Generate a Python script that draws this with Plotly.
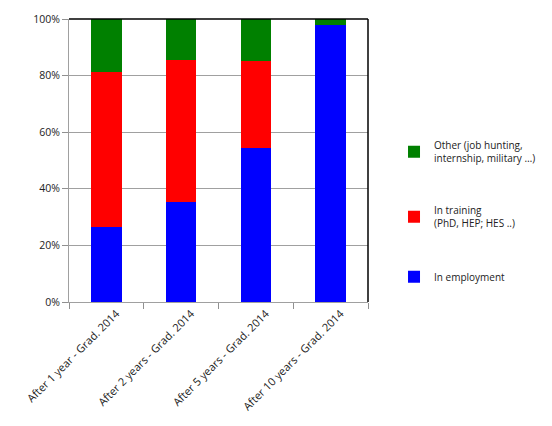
import plotly.graph_objects as go

categories = ["After 1 year - Grad. 2014", "After 2 years - Grad. 2014",
              "After 5 years - Grad. 2014", "After 10 years - Grad. 2014"]
employment = [26.5, 35.5, 54.5, 97.8]
training = [54.7, 50.0, 30.8, 0.0]
other = [18.8, 14.5, 14.7, 2.2]

series_names = ["In employment", "In training<br>(PhD, HEP; HES ..)",
                "Other (job hunting,<br>internship, military …)"]
series_colors = ["#0000FF", "#FF0000", "#008000"]
series_values = [employment, training, other]

fig = go.Figure()
for i, (name, vals, col) in enumerate(zip(series_names, series_values, series_colors)):
    fig.add_trace(go.Bar(x=categories, y=vals, name=name, marker_color=col,
                         marker_line_width=0, legendgroup=f"g{i}",
                         legendrank=3 - i))

fig.update_layout(
    width=552, height=426,
    barmode="stack", bargap=0.59,
    margin=dict(l=61, r=192, t=11, b=132, autoexpand=False),
    plot_bgcolor="white", paper_bgcolor="white",
    font=dict(family="Open Sans, Liberation Sans, sans-serif", size=10, color="#222"),
    legend=dict(x=1.087, y=0.6, xanchor="left", yanchor="top",
                traceorder="grouped", tracegroupgap=36,
                font=dict(size=10), itemwidth=30),
    showlegend=True,
)
fig.update_yaxes(range=[0, 100], dtick=20, ticksuffix="%", showgrid=True,
                 gridcolor="#a0a0a0", gridwidth=1, showline=True, linecolor="#a0a0a0",
                 ticks="outside", ticklen=6, tickwidth=1.2, tickcolor="#909090",
                 zeroline=False, tickfont=dict(size=10.5), automargin=False)
fig.update_xaxes(showline=True, linecolor="#a0a0a0", ticks="outside", ticklen=6,
                 tickwidth=1.2, tickcolor="#909090", tickson="boundaries", tickangle=-45,
                 tickfont=dict(size=11), ticklabelshift=10, automargin=False)
fig.add_shape(type="line", xref="paper", yref="paper", x0=0, x1=1, y0=1, y1=1,
              line=dict(color="black", width=1.5))
fig.add_shape(type="line", xref="paper", yref="paper", x0=1, x1=1, y0=0, y1=1,
              line=dict(color="black", width=1.5))

fig.write_html("out.html")
